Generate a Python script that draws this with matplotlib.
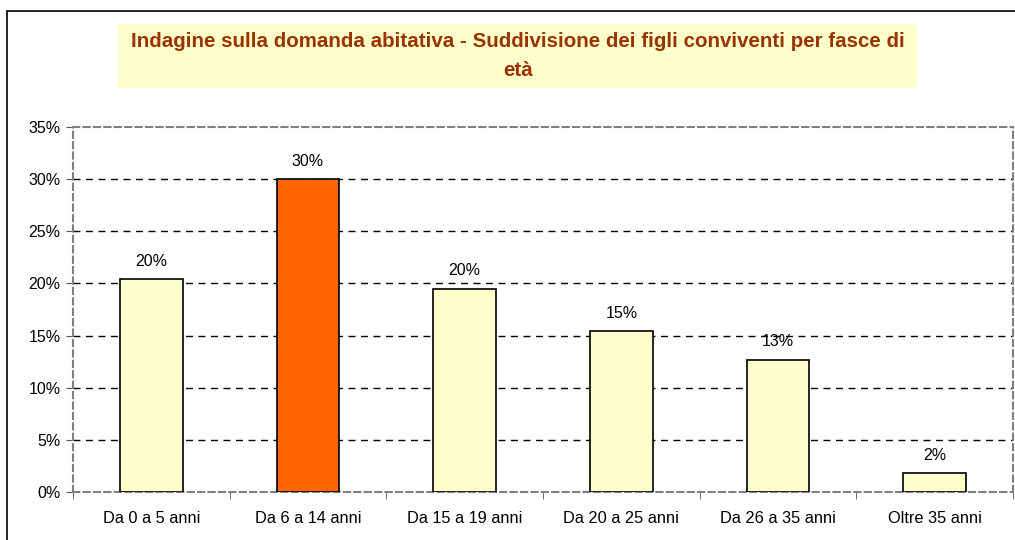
import matplotlib
matplotlib.use("Agg")
import matplotlib.pyplot as plt
from matplotlib.patches import Rectangle
from matplotlib.ticker import FixedLocator, NullFormatter

plt.rcParams["font.family"] = ["Liberation Sans", "DejaVu Sans"]

categories = ["Da 0 a 5 anni", "Da 6 a 14 anni", "Da 15 a 19 anni",
              "Da 20 a 25 anni", "Da 26 a 35 anni", "Oltre 35 anni"]
values = [20.4, 30.0, 19.5, 15.4, 12.7, 1.8]
labels = ["20%", "30%", "20%", "15%", "13%", "2%"]
highlight = 1
y_ticks = [0, 5, 10, 15, 20, 25, 30, 35]

W, H = 1015, 540
fig = plt.figure(figsize=(W / 100, H / 100), dpi=100)

# outer chart border (clipped on right/bottom)
fig.patches.append(Rectangle((7 / W, -0.1), 1.2, 1 - 11 / H + 0.1,
                             transform=fig.transFigure, fill=False,
                             edgecolor="black", lw=1.2))

# title box
fig.patches.append(Rectangle((118 / W, 1 - 88 / H), 799 / W, 64 / H,
                             transform=fig.transFigure, facecolor="#ffffcc",
                             edgecolor="none"))
fig.text(518 / W, 1 - 42 / H, "Indagine sulla domanda abitativa - Suddivisione dei figli conviventi per fasce di",
         ha="center", va="center", fontsize=14.8, fontweight="bold", color="#993300")
fig.text(518 / W, 1 - 70 / H, "età",
         ha="center", va="center", fontsize=14.8, fontweight="bold", color="#993300")

left, right, top, bottom = 73, 1013, 127, 492
ax = fig.add_axes([left / W, 1 - bottom / H, (right - left) / W, (bottom - top) / H])

x = range(len(categories))
colors = ["#ff6600" if i == highlight else "#ffffcc" for i in x]
bars = ax.bar(x, values, width=0.4, color=colors, edgecolor="black", lw=1.2, zorder=3)
for b, lab in zip(bars, labels):
    ax.text(b.get_x() + b.get_width() / 2, b.get_height() + 1.0, lab,
            ha="center", va="bottom", fontsize=11.5)

ax.set_xlim(-0.5, len(categories) - 0.5)
ax.set_ylim(0, 35)
ax.set_yticks(y_ticks)
ax.set_yticklabels([f"{t}%" for t in y_ticks], fontsize=11.5)
ax.set_xticks(list(x))
ax.set_xticklabels(categories, fontsize=11.8)
ax.tick_params(axis="x", length=0, pad=14)
ax.xaxis.set_minor_locator(FixedLocator([i + 0.5 for i in range(-1, len(categories))]))
ax.xaxis.set_minor_formatter(NullFormatter())
ax.tick_params(axis="x", which="minor", length=5, color="#555555")
ax.tick_params(axis="y", length=5, color="#555555", pad=4)

for t in y_ticks[1:-1]:
    ax.axhline(t, color="black", lw=1, ls=(0, (5, 4)), zorder=1)

for s in ax.spines.values():
    s.set_color("#808080")
    s.set_linestyle((0, (3, 2)))
    s.set_linewidth(1.5)

fig.savefig("out.png", dpi=100)
